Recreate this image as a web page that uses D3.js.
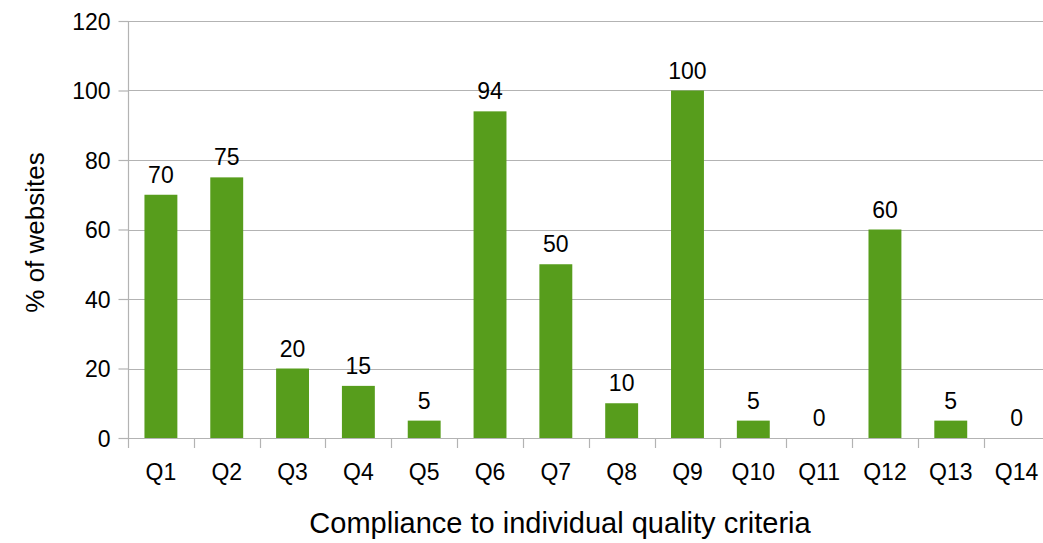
<!DOCTYPE html>
<html>
<head>
<meta charset="utf-8">
<script src="https://cdn.jsdelivr.net/npm/d3@7/dist/d3.min.js"></script>
<style>
  html, body { margin: 0; padding: 0; background: #fff; }
  svg { display: block; }
  text { font-family: "Liberation Sans", Arial, sans-serif; fill: #000; }
</style>
</head>
<body>
<svg id="chart" width="1043" height="543"></svg>
<script>
// Share of websites meeting each quality criterion
const categories = ["Q1","Q2","Q3","Q4","Q5","Q6","Q7","Q8","Q9","Q10","Q11","Q12","Q13","Q14"];
const values = [70, 75, 20, 15, 5, 94, 50, 10, 100, 5, 0, 60, 5, 0];
const yTicks = [0, 20, 40, 60, 80, 100, 120];
const yTitle = "% of websites";
const xTitle = "Compliance to individual quality criteria";

const svg = d3.select("#chart");
const W = 1043, H = 543;
const plotLeft = 128, plotRight = 1049.5, plotTop = 21, plotBottom = 438;

const x = d3.scaleBand().domain(categories).range([plotLeft, plotRight]).paddingInner(0.5).paddingOuter(0.25);
const y = d3.scaleLinear().domain([0, 120]).range([plotBottom, plotTop]);

const gridColor = "#b3b3b3";
const labelSize = 23;

// horizontal gridlines
svg.append("g").selectAll("line").data(yTicks).join("line")
  .attr("x1", plotLeft).attr("x2", W)
  .attr("y1", d => Math.round(y(d)) + 0.5).attr("y2", d => Math.round(y(d)) + 0.5)
  .attr("stroke", gridColor).attr("stroke-width", 1.2);

// y axis
const yAxis = svg.append("g").attr("transform", `translate(${plotLeft + 0.5},0)`)
  .call(d3.axisLeft(y).tickValues(yTicks).tickSize(10).tickPadding(8));
yAxis.select(".domain").attr("stroke", gridColor).attr("stroke-width", 1.2).attr("d", `M0,${plotTop}V${plotBottom}`);
yAxis.selectAll(".tick line").attr("stroke", gridColor).attr("stroke-width", 1.2);
yAxis.selectAll(".tick text").attr("font-size", labelSize).attr("font-family", "Liberation Sans, Arial, sans-serif").attr("fill", "#000").attr("dy", "0.35em");

// x axis with separators between categories
const bounds = d3.range(categories.length + 1).map(i => plotLeft + i * x.step());
svg.append("g").selectAll("line").data(bounds).join("line")
  .attr("x1", d => Math.round(d) + 0.5).attr("x2", d => Math.round(d) + 0.5)
  .attr("y1", plotBottom).attr("y2", plotBottom + 10)
  .attr("stroke", gridColor).attr("stroke-width", 1.2);

svg.append("g").selectAll("text").data(categories).join("text")
  .attr("x", d => x(d) + x.bandwidth() / 2)
  .attr("y", 479.5)
  .attr("text-anchor", "middle")
  .attr("font-size", labelSize)
  .text(d => d);

// bars
const data = categories.map((c, i) => ({ c, v: values[i] }));
svg.append("g").selectAll("rect").data(data).join("rect")
  .attr("x", d => x(d.c))
  .attr("width", x.bandwidth())
  .attr("y", d => y(d.v))
  .attr("height", d => y(0) - y(d.v))
  .attr("fill", "#579d1c");

// value labels
svg.append("g").selectAll("text").data(data).join("text")
  .attr("x", d => x(d.c) + x.bandwidth() / 2)
  .attr("y", d => y(d.v) - 12)
  .attr("text-anchor", "middle")
  .attr("font-size", labelSize)
  .text(d => d.v);

// axis titles
svg.append("text")
  .attr("transform", `translate(44,${(plotTop + plotBottom) / 2 + 3}) rotate(-90)`)
  .attr("text-anchor", "middle")
  .attr("font-size", 26)
  .text(yTitle);

svg.append("text")
  .attr("x", 560)
  .attr("y", 533)
  .attr("text-anchor", "middle")
  .attr("font-size", 29)
  .text(xTitle);
</script>
</body>
</html>
